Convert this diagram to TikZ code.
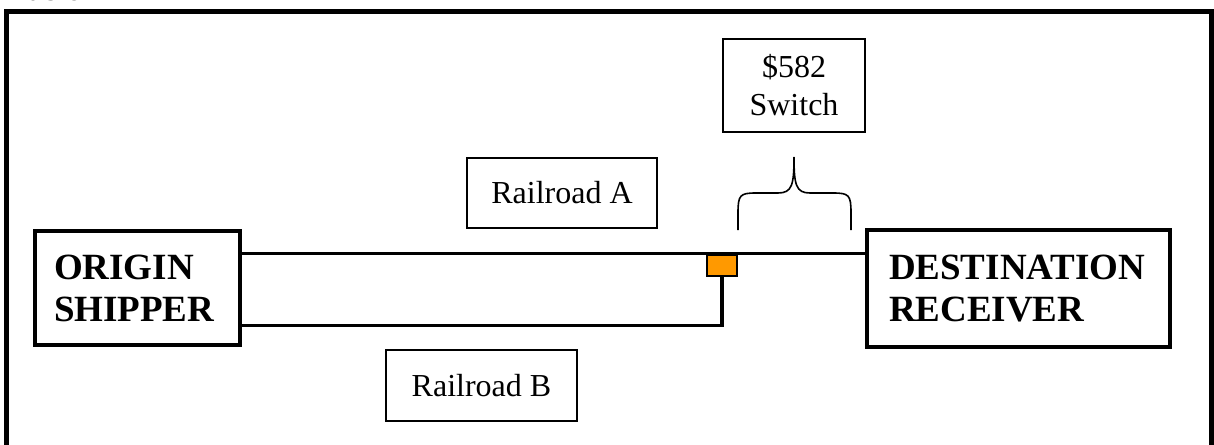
\documentclass[tikz,border=0pt]{standalone}
\usepackage{fontspec}
\setmainfont{Liberation Serif}
\usepackage{tikz}
\definecolor{switchorange}{HTML}{FF9900}

\tikzset{
  endbox/.style={draw,line width=3.5pt,align=left,inner ysep=4pt,
    font=\bfseries\fontsize{37}{42}\selectfont},
  railbox/.style={draw,line width=2pt,align=center,
    font=\fontsize{32}{38}\selectfont},
  rail/.style={line width=3.5pt},
}

\begin{document}
\begin{tikzpicture}[x=1pt,y=-1pt]
      \useasboundingbox (0,0) rectangle (1214,444);
      \node[anchor=base west,font=\bfseries\fontsize{29}{34}\selectfont] (title) at (8,0.5) {Table 2};
      \draw[line width=5pt] (6.5,470) -- (6.5,11.5) -- (1211,11.5) -- (1211,470);

      \node[endbox,minimum width=205pt,minimum height=114pt,inner xsep=19pt,text width=167pt] (origin) at (137.5,288) {ORIGIN\\SHIPPER};
      \node[endbox,minimum width=303pt,minimum height=117pt,inner xsep=22pt,text width=259pt] (dest) at (1018.5,288.5) {DESTINATION\\RECEIVER};

      \node[railbox,minimum width=190pt,minimum height=70pt] (railA) at (562,193) {Railroad A};
      \node[railbox,minimum width=191pt,minimum height=71pt] (railB) at (481.5,385.5) {Railroad B};
      \node[railbox,minimum width=142pt,minimum height=93pt] (cost) at (794,85.5) {\$582\\Switch};

      \draw[rail] ([yshift=34.5pt]origin.east) -- ([yshift=34.5pt]origin.east -| dest.west);
      \node[draw,line width=2pt,fill=switchorange,inner sep=0pt,minimum width=30pt,minimum height=21pt] (switch) at (722,265.5) {};
      \draw[rail] ([yshift=-37.5pt]origin.east) -| (switch.south);

      \draw[line width=1.6pt] (738,230) -- (738,213) .. controls (738,195) and (740,193) .. (756,193)
        -- (778,193) .. controls (792,193) and (794,185) .. (cost.south |- 0,157)
        (cost.south |- 0,157) .. controls (794,185) and (796,193) .. (810,193)
        -- (833,193) .. controls (849,193) and (851,195) .. (851,213) -- (851,230);
    \end{tikzpicture}
\end{document}
